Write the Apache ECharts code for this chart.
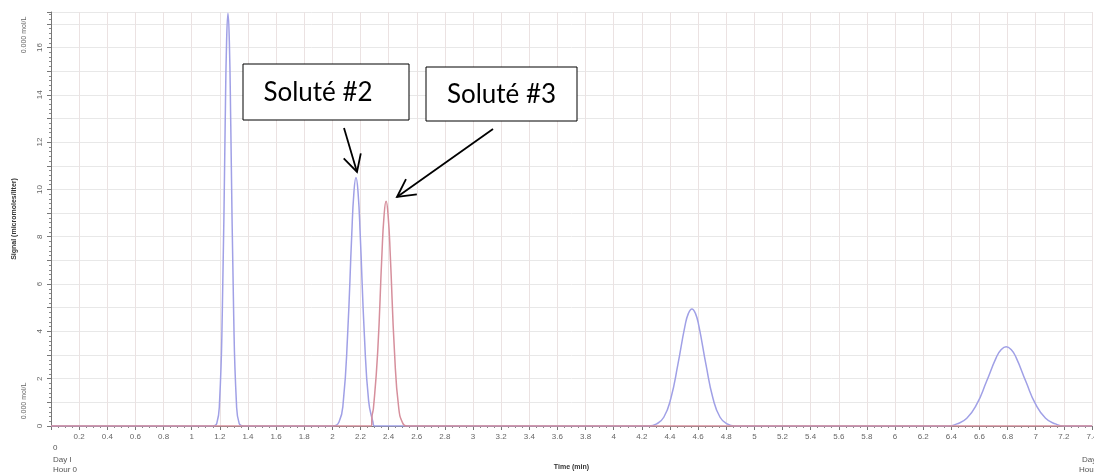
<!DOCTYPE html>
<html>
<head>
<meta charset="utf-8">
<script src="https://cdn.jsdelivr.net/npm/echarts@6/dist/echarts.min.js"></script>
<style>
  html, body { margin: 0; padding: 0; background: #fff; }
  #chart { width: 1094px; height: 475px; }
</style>
</head>
<body>
<div id="chart"></div>
<script>
// blue trace (solutes 1, 2, 4, 5)
const blueTime = [0, 1.15, 1.178, 1.198, 1.218, 1.238, 1.248, 1.258, 1.268, 1.278, 1.298, 1.318, 1.338, 1.37,
  2.0, 2.048, 2.078, 2.108, 2.138, 2.153, 2.168, 2.183, 2.198, 2.228, 2.258, 2.288, 2.30,
  4.25, 4.306, 4.356, 4.406, 4.456, 4.506, 4.531, 4.556, 4.581, 4.606, 4.656, 4.706, 4.756, 4.806, 4.86,
  6.38, 6.44, 6.51, 6.58, 6.65, 6.72, 6.755, 6.79, 6.825, 6.86, 6.93, 7.0, 7.07, 7.14, 7.2, 7.4]
const blueSignal = [0, 0, 0.1, 1.0, 4.9, 12.7, 16.2, 17.45, 16.2, 12.7, 4.9, 1.0, 0.1, 0,
  0, 0.18, 1.05, 3.8, 8.1, 9.85, 10.5, 9.85, 8.1, 3.8, 1.05, 0.18, 0,
  0, 0.09, 0.37, 1.16, 2.59, 4.21, 4.76, 4.95, 4.76, 4.21, 2.59, 1.16, 0.37, 0.09, 0,
  0, 0.09, 0.33, 0.91, 1.88, 2.9, 3.23, 3.35, 3.23, 2.9, 1.88, 0.91, 0.33, 0.09, 0, 0]

// red trace (solute #3) and baseline
const redTime = [0, 2.278, 2.282, 2.292, 2.322, 2.352, 2.367, 2.382, 2.397, 2.412, 2.442, 2.472, 2.502, 2.53, 7.4]
const redSignal = [0, 0, 0.42, 0.75, 3.1, 7.2, 8.85, 9.5, 8.85, 7.2, 3.1, 0.75, 0.1, 0, 0]

const labelFont = 'Liberation Sans, Arial, sans-serif'
const noteFont = '26px Lato, "Noto Sans", sans-serif'

const toPairs = (xs, ys) => xs.map((x, i) => [x, ys[i]])

// open V arrowhead
const arrow = (x1, y1, x2, y2, len) => {
  const a = Math.atan2(y1 - y2, x1 - x2)
  const t = 28 * Math.PI / 180
  return [
    { type: 'line', shape: { x1, y1, x2, y2 }, style: { stroke: '#000', lineWidth: 1.8 }, z: 100 },
    {
      type: 'polyline',
      shape: {
        points: [
          [x2 + len * Math.cos(a + t), y2 + len * Math.sin(a + t)],
          [x2, y2],
          [x2 + len * Math.cos(a - t), y2 + len * Math.sin(a - t)]
        ]
      },
      style: { stroke: '#000', lineWidth: 1.8, fill: null },
      z: 100
    }
  ]
}

const noteBox = (x, y, w, h, text, dx) => [
  { type: 'rect', shape: { x, y, width: w, height: h }, style: { fill: '#fff', stroke: '#000', lineWidth: 1 }, z: 100 },
  {
    type: 'text', x: x + w / 2 + dx, y: y + h / 2 + 1, z: 101,
    style: { text, font: noteFont, fill: '#000', align: 'center', verticalAlign: 'middle' }
  }
]

const smallText = (x, y, text) => ({
  type: 'text', x, y,
  style: { text, font: '8px ' + labelFont, fill: '#555', align: 'left', verticalAlign: 'middle' }
})

const chart = echarts.init(document.getElementById('chart'))
chart.setOption({
  animation: false,
  grid: { left: 51, right: 2, top: 12, bottom: 49, outerBoundsMode: 'none', containLabel: false },
  xAxis: {
    type: 'value',
    min: 0,
    max: 7.4,
    interval: 0.2,
    name: 'Time (min)',
    nameLocation: 'middle',
    nameGap: 38,
    nameTextStyle: { fontFamily: labelFont, fontSize: 7, fontWeight: 'bold', color: '#333' },
    axisLine: { lineStyle: { color: '#777' } },
    axisTick: { length: 4, lineStyle: { color: '#777' } },
    minorTick: { show: true, splitNumber: 4, length: 2, lineStyle: { color: '#888' } },
    axisLabel: {
      fontFamily: labelFont, fontSize: 8, color: '#666', margin: 7,
      showMaxLabel: true,
      formatter: v => (v === 0 ? '' : String(Number(v.toFixed(1))))
    },
    splitLine: { lineStyle: { color: '#ebe2e2', width: 1 } }
  },
  yAxis: {
    type: 'value',
    min: 0,
    max: 17.5,
    interval: 1,
    name: 'Signal (micromoles/liter)',
    nameLocation: 'middle',
    nameGap: 33,
    nameTextStyle: { fontFamily: labelFont, fontSize: 7, fontWeight: 'bold', color: '#333' },
    axisLine: { show: true, lineStyle: { color: '#777' } },
    axisTick: { show: true, length: 4, lineStyle: { color: '#777' } },
    minorTick: { show: true, splitNumber: 5, length: 2, lineStyle: { color: '#888' } },
    axisLabel: {
      fontFamily: labelFont, fontSize: 8, color: '#666', rotate: 90, margin: 7,
      showMaxLabel: false,
      formatter: v => (v % 2 === 0 ? String(v) : '')
    },
    splitLine: { lineStyle: { color: '#e8e8e8', width: 1 } }
  },
  series: [
    {
      name: 'blue',
      type: 'line',
      data: toPairs(blueTime, blueSignal),
      smooth: 0.5,
      showSymbol: false,
      lineStyle: { color: '#a0a0e6', width: 1.5 },
      z: 3
    },
    {
      name: 'red',
      type: 'line',
      data: toPairs(redTime, redSignal),
      smooth: 0.5,
      showSymbol: false,
      lineStyle: { color: '#d68f9c', width: 1.5 },
      z: 4
    }
  ],
  graphic: [
    smallText(53, 448, '0'),
    smallText(53, 460, 'Day I'),
    smallText(53, 470, 'Hour 0'),
    smallText(1082, 460, 'Day'),
    smallText(1079, 470, 'Hour'),
    {
      type: 'text', x: 24, y: 35, rotation: Math.PI / 2,
      style: { text: '0.000 mol/L', font: '7px ' + labelFont, fill: '#666', align: 'center', verticalAlign: 'middle' }
    },
    {
      type: 'text', x: 24, y: 401, rotation: Math.PI / 2,
      style: { text: '0.000 mol/L', font: '7px ' + labelFont, fill: '#666', align: 'center', verticalAlign: 'middle' }
    },
    ...noteBox(243, 64, 166, 56, 'Soluté #2', -8),
    ...noteBox(426, 67, 151, 54, 'Soluté #3', 0),
    ...arrow(344, 128, 357, 172, 19),
    ...arrow(493, 129, 397, 197, 20)
  ]
})
</script>
</body>
</html>
